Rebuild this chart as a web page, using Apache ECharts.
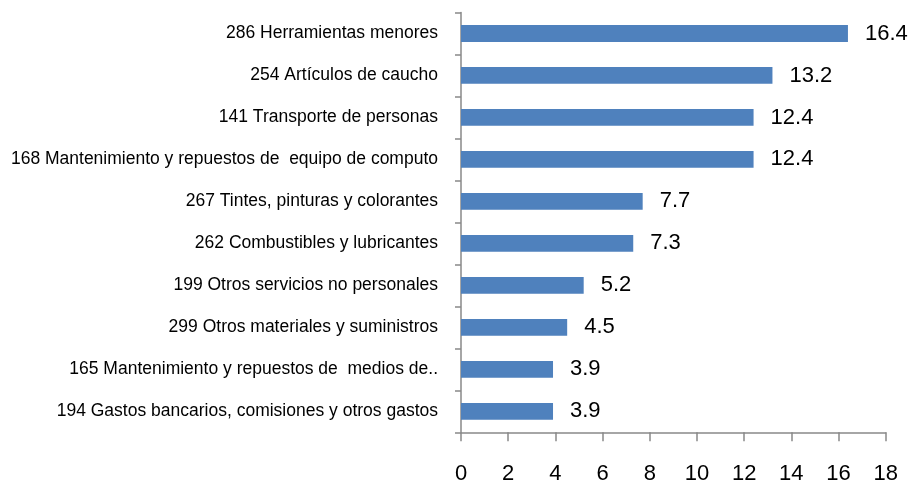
<!DOCTYPE html>
<html><head><meta charset="utf-8">
<script src="https://cdn.jsdelivr.net/npm/echarts@6/dist/echarts.min.js"></script>
<style>html,body{margin:0;padding:0;background:#fff}#c{width:911px;height:485px}</style>
</head><body><div id="c"></div>
<script>
const categories = [
  "286 Herramientas menores",
  "254 Artículos de caucho",
  "141 Transporte de personas",
  "168 Mantenimiento y repuestos de  equipo de computo",
  "267 Tintes, pinturas y colorantes",
  "262 Combustibles y lubricantes",
  "199 Otros servicios no personales",
  "299 Otros materiales y suministros",
  "165 Mantenimiento y repuestos de  medios de..",
  "194 Gastos bancarios, comisiones y otros gastos"
];
const values = [16.4, 13.2, 12.4, 12.4, 7.7, 7.3, 5.2, 4.5, 3.9, 3.9];
const xTicks = [0, 2, 4, 6, 8, 10, 12, 14, 16, 18];

const FONT = '"Liberation Sans", Arial, sans-serif';
const chart = echarts.init(document.getElementById('c'));
chart.setOption({
  animation: false,
  grid: {left: 461, top: 12.5, width: 424.7, height: 419.8, containLabel: false, outerBoundsMode: 'none'},
  xAxis: {
    type: 'value', min: xTicks[0], max: xTicks[xTicks.length - 1], interval: 2,
    splitLine: {show: false},
    axisLine: {show: true, lineStyle: {color: '#898989', width: 1.5}},
    axisTick: {show: true, length: 9, lineStyle: {color: '#898989', width: 1.5}},
    axisLabel: {margin: 31, fontSize: 22, color: '#000', fontFamily: FONT}
  },
  yAxis: {
    type: 'category', data: categories, inverse: true,
    axisLine: {show: true, lineStyle: {color: '#898989', width: 1.5}},
    axisTick: {show: true, length: 6, lineStyle: {color: '#898989', width: 1.5}},
    axisLabel: {margin: 23, fontSize: 17.5, color: '#000', fontFamily: FONT}
  },
  series: [{
    type: 'bar', data: values, barWidth: '40%',
    itemStyle: {color: '#4F81BD'},
    label: {show: true, position: 'right', distance: 17, fontSize: 22, color: '#000', fontFamily: FONT}
  }]
});
</script></body></html>
